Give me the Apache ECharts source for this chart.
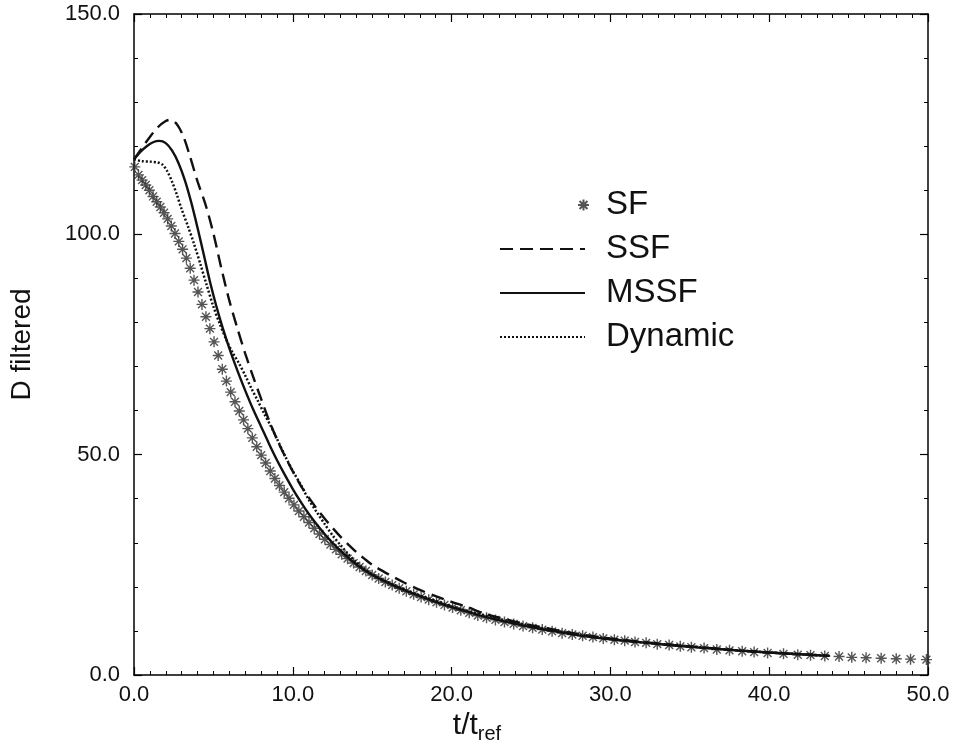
<!DOCTYPE html>
<html><head><meta charset="utf-8">
<script src="https://cdn.jsdelivr.net/npm/echarts@6/dist/echarts.min.js"></script>
<style>html,body{margin:0;padding:0;background:#fff}#c{width:956px;height:751px}</style>
</head><body><div id="c"></div>
<script>
// ---- data ----
const sfT = [0.05,0.28,0.51,0.74,0.97,1.20,1.43,1.66,1.89,2.12,
 2.35,2.58,2.82,3.06,3.30,3.54,3.78,4.03,4.28,4.53,
 4.78,5.04,5.30,5.56,5.82,6.09,6.36,6.63,6.90,7.17,
 7.45,7.73,8.01,8.29,8.58,8.87,9.16,9.46,9.76,10.07,
 10.38,10.70,11.02,11.35,11.68,12.02,12.37,12.72,13.08,13.45,
 13.83,14.21,14.60,15.00,15.41,15.83,16.26,16.70,17.15,17.61,
 18.08,18.56,19.05,19.55,20.06,20.58,21.11,21.65,22.20,22.76,
 23.33,23.91,24.50,25.10,25.71,26.33,26.96,27.60,28.25,28.90,
 29.55,30.25,30.90,31.55,32.25,32.95,33.70,34.40,35.10,35.90,
 36.70,37.50,38.30,39.05,39.90,40.90,41.80,42.60,43.50,44.40,
 45.20,46.10,47.05,48.00,48.90,49.90];
const sfD = [115.3,113.5,112.3,111.2,110.0,108.6,107.4,106.2,104.9,103.5,
 101.9,100.2,98.4,96.6,94.6,92.3,89.6,86.9,84.1,81.3,
 78.6,75.6,72.5,69.4,66.7,64.2,62.0,59.9,57.9,55.9,
 53.8,51.8,49.9,48.1,46.3,44.6,43.0,41.5,40.1,38.6,
 37.2,35.9,34.6,33.3,32.0,30.8,29.6,28.5,27.4,26.4,
 25.4,24.5,23.6,22.7,21.9,21.1,20.4,19.7,19.0,18.3,
 17.7,17.1,16.5,15.9,15.3,14.7,14.1,13.5,13.0,12.5,
 12.0,11.6,11.1,10.7,10.3,9.9,9.5,9.2,8.9,8.6,
 8.3,8.0,7.8,7.5,7.3,7.0,6.8,6.5,6.3,6.1,
 5.8,5.6,5.4,5.2,5.0,4.8,4.6,4.5,4.3,4.2,
 4.0,3.9,3.8,3.7,3.6,3.5];

const ssfT = [0,0.5,1.0,1.5,2.0,2.3,2.7,3.1,3.5,4.0,4.5,5.0,5.5,6.0,6.5,7.0,7.5,8.0,8.5,9.0,
 9.5,10.0,10.5,11.0,11.5,12.0,12.5,13.0,13.5,14.0,14.5,15.0,16.0,17.0,18.0,19.0,20.0,21.0,22.0,23.0,
 24.0,25.0,26.0,28.0,30.0,32.0,34.0,36.0,38.0,40.0,42.0,43.8];
const ssfD = [117.0,119.6,122.1,124.3,125.7,126.0,125.0,122.3,118.0,112.0,106.8,100.2,92.3,85.0,78.8,73.0,67.7,62.7,57.8,53.5,
 49.7,46.2,43.0,40.3,37.8,35.5,33.4,31.4,29.6,27.9,26.4,25.0,22.9,21.0,19.3,17.9,16.6,15.4,14.0,13.0,
 12.1,11.3,10.6,9.3,8.3,7.5,6.8,6.2,5.6,5.1,4.7,4.35];

const mssfT = [0,0.4,0.8,1.2,1.6,2.0,2.4,2.8,3.2,3.6,4.0,4.4,4.8,5.2,5.6,6.0,6.5,7.0,7.5,8.0,
 8.5,9.0,9.5,10.0,10.5,11.0,11.5,12.0,12.5,13.0,13.5,14.0,14.5,15.0,16.0,17.0,18.0,19.0,20.0,22.0,
 24.0,26.0,28.0,30.0,32.0,34.0,36.0,38.0,40.0,42.0,43.8];
const mssfD = [117.0,118.7,120.0,120.9,121.2,120.7,119.0,116.2,112.3,107.3,101.5,95.3,89.0,83.5,78.6,74.2,69.2,64.6,60.3,56.4,
 52.5,48.8,45.4,42.2,39.3,36.6,34.2,32.0,30.0,28.2,26.6,25.1,23.8,22.7,20.9,19.3,17.9,16.6,15.4,13.3,
 11.6,10.2,9.0,8.1,7.4,6.7,6.1,5.6,5.1,4.7,4.35];

const dynT = [0,0.5,1.0,1.5,1.8,2.1,2.4,2.7,3.0,3.4,3.8,4.2,4.6,5.0,5.4,5.8,6.2,6.6,7.0,7.4,
 7.8,8.2,8.6,9.0,9.5,10.0,10.5,11.0,11.5,12.0,12.5,13.0,13.5,14.0,14.5,15.0,16.0,17.0,18.0,19.0,
 20.0,22.0,24.0,26.0,28.0,30.0,32.0,34.0,36.0,38.0,40.0,42.0,43.8];
const dynD = [117.0,116.6,116.5,116.3,115.8,114.3,111.9,109.0,105.7,101.8,97.6,93.0,88.2,83.6,79.7,76.2,73.2,70.8,68.0,65.0,
 62.2,59.3,56.6,53.6,49.8,46.3,43.2,39.8,37.0,34.3,31.7,29.5,27.4,25.6,24.1,22.9,21.0,19.4,18.0,16.8,
 15.6,13.6,11.9,10.4,9.2,8.2,7.4,6.8,6.2,5.6,5.1,4.7,4.35];

const seriesNames = ['SF','SSF','MSSF','Dynamic'];

// ---- chart ----
const pairs = (xs, ys) => xs.map((x, i) => [x, ys[i]]);
const FONT = '"Liberation Sans", Arial, Helvetica, sans-serif';
const STAR = 'path://M0,-6L0,6M-6,0L6,0M-4.3,-4.3L4.3,4.3M-4.3,4.3L4.3,-4.3';
const chart = echarts.init(document.getElementById('c'), null, {renderer: 'canvas'});

const baseX = {
  type: 'value', min: 0, max: 50, interval: 10,
  axisLine: {onZero: false, lineStyle: {color: '#000', width: 1.5}},
  axisTick: {inside: true, length: 8, lineStyle: {color: '#000', width: 1.2}},
  minorTick: {show: true, splitNumber: 10, length: 4, lineStyle: {color: '#000', width: 1}},
  splitLine: {show: false}
};
const baseY = {
  type: 'value', min: 0, max: 150, interval: 50,
  axisLine: {onZero: false, lineStyle: {color: '#000', width: 1.5}},
  axisTick: {inside: true, length: 8, lineStyle: {color: '#000', width: 1.2}},
  minorTick: {show: true, splitNumber: 5, length: 4, lineStyle: {color: '#000', width: 1}},
  splitLine: {show: false}
};

const option = {
  animation: false,
  backgroundColor: '#fff',
  color: ['#222', '#111', '#111', '#111'],
  grid: {left: 134, right: 28, top: 14, bottom: 76, containLabel: false},
  xAxis: [
    Object.assign({}, baseX, {
      position: 'bottom',
      axisLabel: {formatter: v => v.toFixed(1), color: '#111', fontSize: 22, fontFamily: FONT, margin: 9},
      name: '{a|t/t}{b|ref}', nameLocation: 'middle', nameGap: 31,
      nameTextStyle: {padding: [0, 108, 0, 0], rich: {
        a: {fontSize: 30, fontFamily: FONT, color: '#111', verticalAlign: 'top', lineHeight: 34},
        b: {fontSize: 20, fontFamily: FONT, color: '#111', verticalAlign: 'top', lineHeight: 22, padding: [14, 0, 0, 0]}
      }}
    }),
    Object.assign({}, baseX, {position: 'top', axisLabel: {show: false}})
  ],
  yAxis: [
    Object.assign({}, baseY, {
      position: 'left',
      axisLabel: {formatter: v => v.toFixed(1), color: '#111', fontSize: 22, fontFamily: FONT, margin: 14},
      name: 'D filtered', nameLocation: 'middle', nameGap: 98,
      nameTextStyle: {fontSize: 28, fontFamily: FONT, color: '#111'}
    }),
    Object.assign({}, baseY, {position: 'right', axisLabel: {show: false}})
  ],
  legend: [
    {
      data: [{name: 'SF', icon: STAR}], orient: 'vertical', left: 572, top: 181,
      itemWidth: 11, itemHeight: 11,
      textStyle: {fontSize: 33, fontFamily: FONT, color: '#111', lineHeight: 38, padding: [0, 0, 0, 12]}
    },
    {
      data: ['SSF', 'MSSF', 'Dynamic'], orient: 'vertical', left: 494, top: 225, itemGap: 6,
      itemWidth: 85, itemHeight: 14,
      itemStyle: {color: 'rgba(0,0,0,0)', borderWidth: 0, opacity: 0},
      textStyle: {fontSize: 33, fontFamily: FONT, color: '#111', lineHeight: 38, padding: [0, 0, 0, 16]}
    }
  ],
  series: [
    {
      name: seriesNames[0], type: 'scatter', data: pairs(sfT, sfD),
      symbol: STAR, symbolSize: 11,
      itemStyle: {color: 'rgba(0,0,0,0)', borderColor: '#2a2a2a', borderWidth: 1.4}
    },
    {
      name: seriesNames[1], type: 'line', data: pairs(ssfT, ssfD), symbol: 'none', showSymbol: false,
      smooth: 0.3, lineStyle: {color: '#111', width: 2.4, type: [13, 7]}
    },
    {
      name: seriesNames[2], type: 'line', data: pairs(mssfT, mssfD), symbol: 'none', showSymbol: false,
      smooth: 0.3, lineStyle: {color: '#111', width: 2.4, type: 'solid'}
    },
    {
      name: seriesNames[3], type: 'line', data: pairs(dynT, dynD), symbol: 'none', showSymbol: false,
      smooth: 0.3, lineStyle: {color: '#111', width: 2.5, type: [2, 2]}
    }
  ]
};
chart.setOption(option);
</script>
</body></html>
